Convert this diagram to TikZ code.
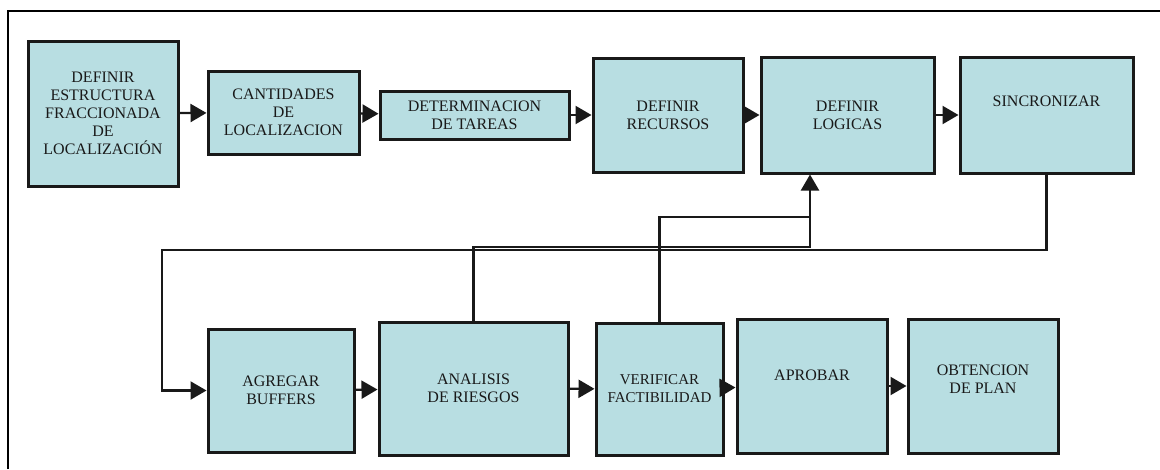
\documentclass[tikz,border=0pt]{standalone}
\usepackage{fontspec}
\setmainfont{Liberation Serif}
\usepackage{tikz}
\usetikzlibrary{arrows.meta}
\definecolor{boxfill}{RGB}{184,222,226}
\definecolor{inkcol}{RGB}{25,25,25}

\begin{document}
\begin{tikzpicture}[x=1pt, y=-1pt,
node_style/.style={rectangle,draw=inkcol,fill=boxfill,line width=3pt,inner sep=0pt,align=center,text=inkcol,font=\fontsize{16}{18}\selectfont},
edge_style/.style={draw=inkcol, line width=2.2pt, -{Triangle[length=16pt,width=18pt]}},
line_style/.style={draw=inkcol, line width=2.2pt}]
\useasboundingbox (0,0) rectangle (1160,469);
\draw[line width=2.2pt] (8,469) -- (8,11) -- (1160,11);

\node[node_style,minimum width=150pt,minimum height=145pt] (est) at (103,113.5) {DEFINIR\\ESTRUCTURA\\FRACCIONADA\\DE\\LOCALIZACIÓN};
\node[node_style,minimum width=151pt,minimum height=83pt] (cant) at (283.5,112.5) {CANTIDADES\\DE\\LOCALIZACION};
\node[node_style,minimum width=189pt,minimum height=48pt] (det) at (474.5,115) {DETERMINACION\\DE TAREAS};
\node[node_style,minimum width=150pt,minimum height=114pt] (rec) at (668,115) {DEFINIR\\RECURSOS};
\node[node_style,minimum width=173pt,minimum height=116pt] (log) at (847.5,115) {DEFINIR\\LOGICAS};
\node[node_style,minimum width=173pt,minimum height=116pt] (sinc) at (1046.5,115) {SINCRONIZAR\\[10pt]};

\node[node_style,minimum width=146pt,minimum height=123pt] (buf) at (281,390.5) {AGREGAR\\BUFFERS};
\node[node_style,minimum width=189pt,minimum height=133pt] (ries) at (473.5,388.5) {ANALISIS\\DE RIESGOS};
\node[node_style,minimum width=127pt,minimum height=132pt,font=\fontsize{15}{18}\selectfont] (fact) at (659.5,389) {\\[-8pt]VERIFICAR\\FACTIBILIDAD};
\node[node_style,minimum width=150pt,minimum height=134pt] (apr) at (812,386) {APROBAR\\[4pt]};
\node[node_style,minimum width=150pt,minimum height=134pt] (plan) at (983,386) {OBTENCION\\DE PLAN\\[-4pt]};

% top row
\draw[edge_style] (est) -- (cant);
\draw[edge_style] (cant) -- (det);
\draw[edge_style] (det) -- (rec);
\draw[edge_style] (rec) -- (log);
\draw[edge_style] (log) -- (sinc);

% bottom row
\draw[edge_style] (buf) -- (ries);
\draw[edge_style] (ries) -- (fact);
\draw[edge_style] (fact) -- (apr);
\draw[edge_style] (apr) -- (plan);

% feedback lines
\coordinate (ret) at (162,250);
\coordinate (jn) at (810,247);
\coordinate (jv) at (810,217);
\draw[edge_style] (sinc.south) |- (ret) |- (buf.west);
\draw[edge_style] (ries.north) |- (jn) -- (jn |- log.south);
\draw[line_style] (fact.north) |- (jv);

\end{tikzpicture}
\end{document}
